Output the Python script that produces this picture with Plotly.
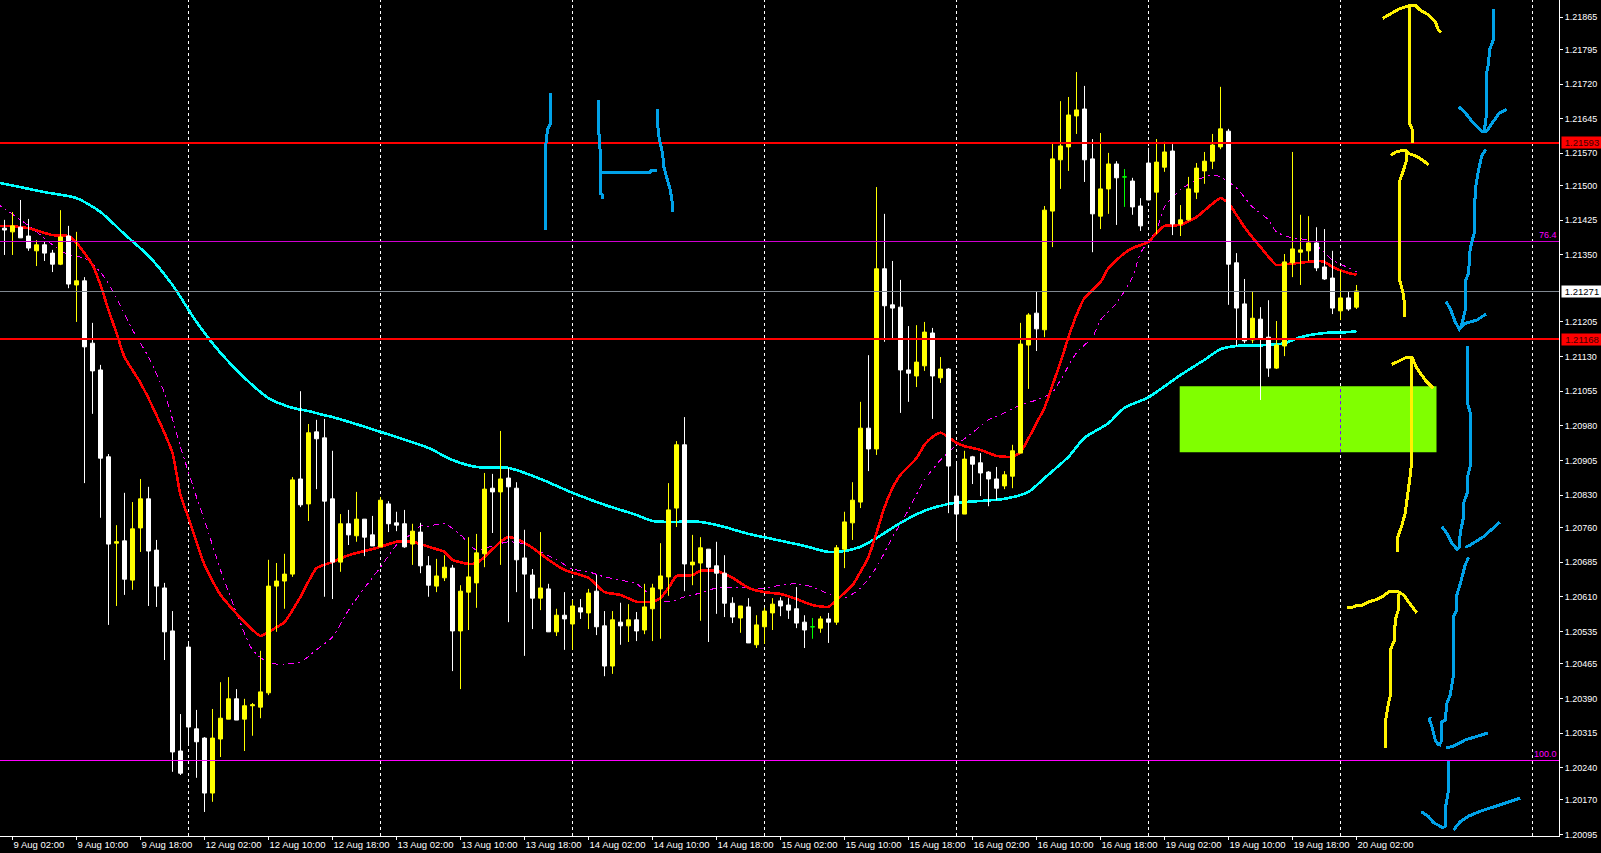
import plotly.graph_objects as go

# Prices are in points (1/100000)
highs = [121426,121443,121469,121428,121382,121380,121361,121447,121413,121400,
121302,121203,121112,120919,120765,120835,120815,120865,120848,120733,
120640,120579,120356,120514,120365,120306,120367,120425,120436,120410,
120389,120380,120493,120690,120683,120703,120869,121055,120984,120993,
120995,120926,120789,120798,120837,120778,120785,120826,120817,120794,
120798,120768,120770,120698,120692,120700,120679,120635,120739,120746,
120878,120876,120969,120889,120858,120755,120670,120750,120638,120584,
120620,120603,120605,120627,120657,120579,120579,120597,120594,120577,
120638,120638,120726,120856,120947,120999,120744,120739,120713,120729,
120700,120609,120590,120607,120570,120586,120607,120609,120607,120631,
120570,120564,120568,120575,120722,120794,120858,121032,121133,121497,
121439,121337,121296,121196,121198,121205,121192,121129,121105,120904,
120926,120915,120921,120882,120891,120882,120939,121203,121224,121270,
121456,121592,121683,121692,121746,121716,121601,121614,121571,121553,
121536,121517,121473,121582,121601,121595,121590,121458,121519,121549,
121573,121612,121714,121623,121354,121298,121270,121237,121252,121207,
121352,121573,121437,121434,121410,121406,121359,121317,121270,121285]
body_tops = [121408,121413,121410,121391,121372,121372,121354,121389,121391,121294,
121294,121159,121101,120913,120729,120731,120757,120822,120822,120711,
120629,120536,120276,120501,120324,120304,120304,120347,120389,120389,
120374,120376,120404,120633,120644,120659,120863,120865,120965,120967,
120954,120822,120768,120768,120778,120778,120744,120819,120811,120770,
120768,120752,120750,120677,120655,120674,120672,120622,120653,120705,
120843,120845,120865,120867,120845,120694,120657,120629,120627,120570,
120570,120590,120586,120618,120622,120547,120560,120555,120560,120560,
120588,120629,120655,120798,120939,120939,120685,120716,120713,120677,
120661,120596,120590,120588,120549,120579,120594,120601,120592,120584,
120555,120545,120562,120562,120716,120772,120819,120975,120975,121320,
121320,121242,121237,121101,121118,121183,121181,121103,121103,120828,
120908,120913,120900,120880,120865,120874,120926,121157,121220,121224,
121447,121558,121586,121653,121664,121666,121558,121493,121547,121547,
121519,121510,121456,121549,121551,121573,121575,121426,121493,121538,
121553,121588,121623,121618,121333,121244,121213,121211,121172,121155,
121335,121363,121361,121376,121376,121324,121300,121257,121257,121272]
body_bottoms = [121404,121400,121387,121365,121359,121354,121330,121330,121287,121285,
121151,121099,120910,120724,120726,120648,120646,120759,120709,120633,
120534,120274,120228,120328,120296,120185,120185,120302,120345,120343,
120345,120374,120371,120402,120633,120644,120659,120809,120811,120952,
120817,120685,120685,120744,120742,120739,120720,120718,120768,120765,
120718,120724,120677,120635,120633,120651,120536,120536,120620,120640,
120703,120837,120837,120848,120690,120659,120607,120607,120534,120534,
120562,120551,120577,120575,120545,120460,120460,120547,120547,120536,
120538,120584,120627,120653,120802,120681,120679,120683,120674,120661,
120596,120566,120564,120510,120506,120545,120575,120590,120581,120553,
120538,120545,120542,120555,120555,120713,120770,120815,120930,120930,
121240,121235,121101,121094,121088,121110,121088,121084,120893,120789,
120789,120897,120878,120865,120845,120850,120871,120921,121155,121190,
121188,121445,121556,121584,121651,121556,121439,121434,121493,121517,
121519,121454,121413,121469,121486,121540,121417,121417,121426,121486,
121532,121553,121584,121330,121235,121164,121166,121168,121105,121105,
121153,121333,121356,121359,121322,121298,121235,121229,121233,121237]
lows = [121350,121350,121387,121359,121326,121337,121313,121328,121278,121205,
120856,121006,120781,120549,120590,120614,120625,120707,120590,120588,
120473,120231,120224,120287,120218,120144,120166,120263,120345,120343,
120276,120309,120347,120397,120534,120584,120653,120804,120774,120843,
120610,120605,120664,120722,120729,120698,120720,120718,120750,120752,
120716,120679,120661,120610,120620,120644,120449,120410,120538,120586,
120674,120748,120679,120555,120620,120482,120540,120581,120534,120525,
120495,120495,120562,120540,120527,120438,120443,120506,120512,120514,
120529,120514,120519,120612,120761,120622,120635,120558,120512,120573,
120566,120553,120532,120510,120499,120508,120538,120568,120562,120542,
120499,120519,120532,120510,120549,120672,120733,120802,120882,120917,
121162,121168,121008,121032,121064,121099,120995,121073,120791,120729,
120789,120854,120828,120806,120819,120843,120845,120921,121060,121142,
121172,121367,121493,121532,121612,121508,121356,121406,121439,121415,
121454,121437,121402,121469,121395,121530,121393,121391,121424,121471,
121504,121536,121579,121242,121153,121159,121159,121036,121086,121103,
121131,121302,121285,121337,121315,121296,121222,121209,121229,121233]
bull_bars = [1,4,7,9,14,16,17,26,27,28,30,31,32,33,34,35,36,38,42,44,47,51,54,55,57,58,59,60,62,67,69,71,73,76,78,80,81,82,83,84,86,87,92,94,95,96,102,104,105,106,107,109,114,115,117,120,125,126,127,128,130,131,132,133,134,137,138,144,145,147,148,149,150,151,152,156,159,160,161,162,163,167,169]
doji_bars = [101,140]

cyan_bars = [-1,0,5,9,12,15,18,21,24,27,30,33,36,38,40,41,47,53,56,59,63,67,71,75,79,81,83,87,90,93,96,100,103,105,107,109,112,115,118,120,125,128,130,133,135,138,140,143,147,150,152,154,158,160,162,165,168,169]
cyan_vals = [121507,121504,121486,121473,121443,121395,121348,121285,121205,121138,121084,121040,121019,121012,121003,120999,120967,120932,120906,120891,120889,120865,120835,120809,120787,120774,120772,120772,120761,120746,120735,120720,120707,120709,120718,120737,120770,120796,120811,120815,120822,120837,120867,120913,120954,120986,121019,121042,121090,121123,121146,121153,121155,121159,121172,121181,121183,121185]

red_bars = [-1,0,3,6,8,9,10,11,12,13,14,15,17,19,21,22,23,25,27,30,32,33,35,37,39,41,43,45,47,49,51,52,54,55,56,58,59,60,62,63,64,66,68,70,73,75,77,79,81,82,83,84,86,87,89,91,93,95,97,99,101,103,104,106,107,108,109,110,111,112,114,115,116,117,118,119,120,122,124,126,127,129,130,131,132,133,134,135,137,138,140,141,143,144,145,147,149,152,153,155,157,159,160,162,164,165,166,168,169]
red_vals = [121413,121413,121408,121393,121391,121376,121354,121328,121285,121231,121181,121129,121073,121003,120921,120830,120781,120679,120614,120555,120525,120534,120555,120610,120672,120685,120700,120709,120718,120729,120729,120724,120713,120707,120690,120681,120683,120696,120729,120739,120735,120716,120690,120668,120651,120620,120614,120599,120599,120607,120629,120655,120657,120666,120666,120651,120629,120620,120616,120605,120592,120588,120603,120635,120664,120696,120748,120804,120845,120874,120910,120939,120956,120965,120956,120943,120936,120928,120915,120913,120923,120986,121019,121068,121118,121172,121220,121257,121291,121322,121354,121365,121378,121398,121413,121415,121432,121473,121462,121410,121367,121328,121330,121333,121337,121335,121324,121311,121307]

magenta_bars = [-1,0,2,4,6,8,10,12,14,16,18,20,22,24,25,27,29,31,33,35,37,39,41,43,45,47,49,51,52,53,55,57,59,61,63,65,67,69,71,73,75,77,79,81,83,85,87,89,91,93,95,97,99,101,103,105,107,109,111,113,115,117,119,121,123,125,127,129,131,132,134,136,137,139,141,142,144,145,147,149,151,152,154,156,158,159,161,163,165,166,168,169]
magenta_vals = [121462,121450,121426,121400,121372,121350,121343,121313,121257,121188,121129,121051,120934,120826,120776,120668,120575,120495,120467,120464,120469,120495,120523,120581,120629,120674,120722,120748,120763,120763,120768,120744,120711,120720,120729,120724,120707,120690,120670,120664,120653,120646,120638,120610,120599,120610,120618,120629,120629,120629,120629,120635,120638,120631,120616,120607,120629,120674,120739,120798,120863,120906,120939,120965,120993,121008,121025,121036,121053,121079,121138,121172,121209,121246,121302,121354,121404,121454,121491,121512,121523,121519,121495,121454,121426,121400,121387,121382,121356,121339,121322,121313]

axis_dates = ["9 Aug 02:00","9 Aug 10:00","9 Aug 18:00","12 Aug 02:00","12 Aug 10:00","12 Aug 18:00","13 Aug 02:00","13 Aug 10:00","13 Aug 18:00","14 Aug 02:00","14 Aug 10:00","14 Aug 18:00","15 Aug 02:00","15 Aug 10:00","15 Aug 18:00","16 Aug 02:00","16 Aug 10:00","16 Aug 18:00","19 Aug 02:00","19 Aug 10:00","19 Aug 18:00","20 Aug 02:00"]
price_ticks = ["1.21865","1.21795","1.21720","1.21645","1.21570","1.21500","1.21425","1.21350","1.21205","1.21130","1.21055","1.20980","1.20905","1.20830","1.20760","1.20685","1.20610","1.20535","1.20465","1.20390","1.20315","1.20240","1.20170","1.20095"]

support_resistance = [1.21593, 1.21168]
last_price = 1.21271
fib_levels = {"76.4": 1.2138, "100.0": 1.20256}
zone_bars = (146.9, 179.0)
zone_prices = (1.20923, 1.21066)

# Hand-drawn strokes: (bars, prices in points)
blue_strokes = [
 ([68.25,68.25,67.88,67.68,67.68,67.59,67.63],[121701,121635,121621,121592,121527,121491,121403]),
 ([74.25,74.25,74.43,74.43,74.5,74.71,74.75],[121686,121621,121592,121512,121483,121480,121471]),
 ([74.43,74.75,80.71,80.8,81.59],[121523,121529,121529,121533,121533]),
 ([81.63,81.63,81.75,82.25,82.43,83.21,83.43,83.55],[121665,121638,121610,121570,121540,121491,121469,121443]),
 ([186.13,186.13,185.63,185.5,185.21,185.21,184.96],[121882,121817,121794,121765,121740,121649,121617]),
 ([181.75,182.59,183.63,184.68,185.21,185.93,186.84,187.8],[121671,121658,121635,121617,121617,121635,121657,121665]),
 ([185.18,184.68,184.25,183.84,183.71,183.21,183,182.68,182.59,182.05],[121579,121566,121534,121491,121397,121364,121310,121296,121231,121191]),
 ([180.18,180.71,181.34,181.88,182.59,184.05,185.18],[121249,121234,121205,121189,121202,121209,121222]),
 ([182.88,182.88,183.3,183.3,182.88,182.88,182.38,182.38,181.96,181.84],[121153,121029,121003,120899,120870,120837,120812,120783,120747,120715]),
 ([179.68,180.3,180.93,181.55,181.88],[120762,120747,120726,120713,120718]),
 ([182.59,183.21,184.88,186.88],[120717,120722,120740,120771]),
 ([183,182.59,182.05,181.55,181.46,181.13,181.13,180.71,180.3,180.09,179.68,179.68,179.34],[120695,120679,120643,120614,120578,120567,120441,120397,120379,120343,120339,120300,120287]),
 ([178.21,178.13,178.43,178.84,179.34],[120350,120343,120329,120300,120287]),
 ([180.21,180.93,182.59,183.84,185.43],[120284,120285,120300,120307,120315]),
 ([180.5,180.5,180.18,180.18],[120255,120192,120159,120112]),
 ([177.09,178,178.63,179.68,180.18],[120145,120134,120121,120111,120112]),
 ([181.13,181.96,183,184.68,186.34,187.8,189.46],[120105,120123,120135,120147,120156,120164,120174]),
]
yellow_strokes = [
 ([172.25,173,174.25,175.09,175.71,176.34,176.96,178,178.84,179.25,179.55],[121862,121870,121882,121887,121890,121891,121880,121870,121855,121837,121831]),
 ([175.63,175.63,175.93,176.05],[121889,121635,121624,121593]),
 ([173.3,174.05,175.09,175.5,176.55,177.38,178],[121566,121574,121577,121570,121563,121554,121545]),
 ([175.21,175.21,174.8,174.38,174.38,174.8,175,175],[121577,121552,121530,121509,121296,121270,121245,121215]),
 ([173.43,174.46,175.21,175.93,176.55,177.59,178.63],[121113,121121,121128,121128,121105,121079,121061]),
 ([175.93,175.93,175.8,175.5,175.09,174.68,174.18,174.09],[121126,120924,120884,120848,120791,120765,120740,120706]),
 ([167.8,168.43,169.05,169.68,170.5,171.55,172.38,173.13,174.05,174.88,175.5,176.55],[120586,120587,120591,120591,120599,120604,120612,120622,120622,120614,120599,120575]),
 ([174.3,174.3,173.84,173.75,173.3,173.3,173,172.68,172.68],[120617,120585,120560,120516,120498,120401,120379,120347,120282]),
]

FONT = "Liberation Sans"
PX = lambda v: v / 1e5
n = len(highs)
normal = [i for i in range(n) if i not in doji_bars]
def open_close(i):
    return (body_bottoms[i], body_tops[i]) if i in bull_bars else (body_tops[i], body_bottoms[i])

fig = go.Figure()
for name, bars, vals, color, width, dash, smooth in [
    ("MA long", cyan_bars, cyan_vals, "#00ffff", 2.6, "solid", 0.7),
    ("MA slow", magenta_bars, magenta_vals, "#ff00ff", 1, "6px,4px,2px,4px", 0.7),
    ("MA fast", red_bars, red_vals, "#ff0000", 2.6, "solid", 0.5),
]:
    fig.add_trace(go.Scatter(x=bars, y=[PX(v) for v in vals], mode="lines", name=name,
                             line=dict(color=color, width=width, dash=dash, shape="spline", smoothing=smooth),
                             showlegend=False))

fig.add_trace(go.Candlestick(
    x=normal,
    open=[PX(open_close(i)[0]) for i in normal],
    high=[PX(highs[i]) for i in normal],
    low=[PX(lows[i]) for i in normal],
    close=[PX(open_close(i)[1]) for i in normal],
    increasing=dict(line=dict(color="#ffff00", width=1), fillcolor="#ffff00"),
    decreasing=dict(line=dict(color="#ffffff", width=1), fillcolor="#ffffff"),
    xaxis="x2", yaxis="y2", showlegend=False, name="EURUSD"))
fig.add_trace(go.Candlestick(
    x=doji_bars,
    open=[PX(body_tops[i]) for i in doji_bars],
    high=[PX(highs[i]) for i in doji_bars],
    low=[PX(lows[i]) for i in doji_bars],
    close=[PX(body_bottoms[i]) for i in doji_bars],
    increasing=dict(line=dict(color="#00ff00", width=1), fillcolor="#00ff00"),
    decreasing=dict(line=dict(color="#00ff00", width=1), fillcolor="#00ff00"),
    xaxis="x2", yaxis="y2", showlegend=False, name="doji"))

# horizontal levels drawn over the candles
x_low, x_high = -4.5 / 8, (1559 - 4.5) / 8
def level(y, color, width):
    fig.add_trace(go.Scatter(x=[x_low, x_high], y=[y, y], mode="lines", xaxis="x2", yaxis="y2",
                             line=dict(color=color, width=width), showlegend=False, hoverinfo="skip"))
level(last_price, "#808890", 1)
level(fib_levels["76.4"], "#d000d0", 1)
level(fib_levels["100.0"], "#ff00ff", 1)
for lv in support_resistance:
    level(lv, "#ff0000", 2)

def strokes(data, color):
    xs, ys = [], []
    for bx, py in data:
        xs += list(bx) + [None]
        ys += [PX(v) for v in py] + [None]
    fig.add_trace(go.Scatter(x=xs, y=ys, mode="lines", xaxis="x2", yaxis="y2",
                             line=dict(color=color, width=3), showlegend=False, hoverinfo="skip"))
strokes(yellow_strokes, "#fff200")
strokes(blue_strokes, "#00a2e8")

shapes = []
separators = list(range(23, 195, 24))
for k in separators:
    shapes.append(dict(type="line", xref="x", yref="paper", x0=k, x1=k, y0=0, y1=1, layer="below",
                       line=dict(color="#ffffff", width=1, dash="3px,3px")))
shapes.append(dict(type="rect", xref="x", yref="y", x0=zone_bars[0], x1=zone_bars[1],
                   y0=zone_prices[0], y1=zone_prices[1], layer="below",
                   fillcolor="#80ff00", line=dict(width=0)))
shapes.append(dict(type="line", xref="x", yref="y", x0=167, x1=167, y0=zone_prices[0], y1=zone_prices[1],
                   layer="below", line=dict(color="#7f00ff", width=1, dash="3px,3px")))

y_range = [1.20092, 1.21902]
axis_font = dict(family=FONT, size=9.5, color="#ffffff")

annotations = []
def price_box(y, bg, fg):
    annotations.append(dict(xref="paper", yref="y", x=1561 / 1559, y=y, xanchor="left", yanchor="middle",
                            text="%.5f" % y, showarrow=False, bgcolor=bg, width=40, height=11, align="center",
                            borderpad=0, font=dict(family=FONT, size=9.5, color=fg)))
for lv in support_resistance:
    price_box(lv, "#ff0000", "#400000")
price_box(last_price, "#ffffff", "#000000")
for label, lv in fib_levels.items():
    annotations.append(dict(xref="paper", yref="y", x=1558 / 1559, y=lv, xanchor="right", yanchor="bottom",
                            text=label, showarrow=False, borderpad=0, yshift=0,
                            font=dict(family=FONT, size=9, color="#ff00ff")))

fig.update_layout(
    width=1601, height=853, margin=dict(l=0, r=42, t=0, b=17, autoexpand=False),
    paper_bgcolor="#000000", plot_bgcolor="#000000", showlegend=False,
    boxmode="overlay", boxgap=0.5, boxgroupgap=0,
    shapes=shapes, annotations=annotations,
    xaxis=dict(range=[x_low, x_high], tickmode="array", tickvals=list(range(1, 170, 8)), ticktext=axis_dates,
               showgrid=False, zeroline=False, showline=True, linecolor="#ffffff", linewidth=1,
               ticks="outside", ticklen=3, tickcolor="#ffffff", tickwidth=1,
               ticklabelposition="outside right", tickfont=axis_font, tickangle=0, rangeslider=dict(visible=False)),
    yaxis=dict(range=y_range, side="right", tickmode="array", tickvals=[float(t) for t in price_ticks], ticktext=price_ticks,
               showgrid=False, zeroline=False, showline=True, linecolor="#ffffff", linewidth=1,
               ticks="outside", ticklen=3, tickcolor="#ffffff", tickwidth=1, tickfont=dict(family=FONT, size=9, color="#ffffff")),
    xaxis2=dict(range=[x_low, x_high], overlaying="x", visible=False, rangeslider=dict(visible=False)),
    yaxis2=dict(range=y_range, overlaying="y", visible=False),
)

post = """
document.documentElement.style.background='#000';
document.body.style.margin='0';document.body.style.background='#000';document.body.style.overflow='hidden';
var s=document.createElement('style');s.textContent='.scatterlayer .js-line{shape-rendering:crispEdges}';document.head.appendChild(s);
"""
fig.write_html("out.html", post_script=post, config=dict(displayModeBar=False))
